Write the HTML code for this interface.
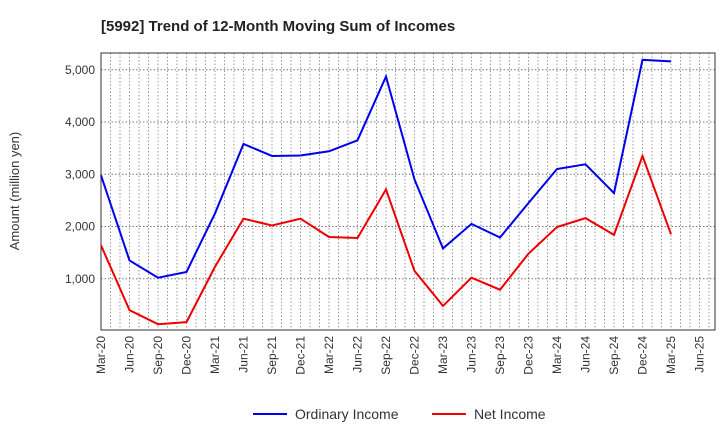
<!DOCTYPE html>
<html><head><meta charset="utf-8"><style>
body{margin:0;background:#fff;font-family:"Liberation Sans",sans-serif;}
</style></head><body>
<svg id="c" width="720" height="440" xmlns="http://www.w3.org/2000/svg">
<text x="101" y="31" font-size="15" font-weight="bold" fill="#222">[5992]  Trend of 12-Month Moving Sum of Incomes</text>
<text transform="translate(19,191) rotate(-90)" text-anchor="middle" font-size="13" fill="#333">Amount (million yen)</text>
<g id="grid"></g><g id="axes"></g><g id="series"></g>
<g>
<line x1="253" y1="414" x2="287" y2="414" stroke="#0000ee" stroke-width="2"/>
<text x="295" y="419" font-size="14" fill="#333">Ordinary Income</text>
<line x1="432" y1="414" x2="466" y2="414" stroke="#ee0000" stroke-width="2"/>
<text x="474" y="419" font-size="14" fill="#333">Net Income</text>
</g>
</svg>
<script>
const categories=["Mar-20","Jun-20","Sep-20","Dec-20","Mar-21","Jun-21","Sep-21","Dec-21","Mar-22","Jun-22","Sep-22","Dec-22","Mar-23","Jun-23","Sep-23","Dec-23","Mar-24","Jun-24","Sep-24","Dec-24","Mar-25"];
const xTickLabels=["Mar-20","Jun-20","Sep-20","Dec-20","Mar-21","Jun-21","Sep-21","Dec-21","Mar-22","Jun-22","Sep-22","Dec-22","Mar-23","Jun-23","Sep-23","Dec-23","Mar-24","Jun-24","Sep-24","Dec-24","Mar-25","Jun-25"];
const ordinaryIncome=[2980,1350,1020,1130,2250,3580,3350,3360,3440,3650,4870,2900,1580,2050,1790,2450,3100,3190,2640,5190,5160];
const netIncome=[1640,400,130,170,1230,2150,2020,2150,1800,1780,2710,1150,480,1020,790,1480,1990,2160,1840,3350,1850];
const yTicks=[1000,2000,3000,4000,5000];
const NS="http://www.w3.org/2000/svg";
const L=101,R=715,T=53,B=330;
const xs=m=>L+m*9.5;               // m = months since Mar-20
const ys=v=>331-v*0.05225;
function mk(tag,attrs,parent){const e=document.createElementNS(NS,tag);for(const k in attrs)e.setAttribute(k,attrs[k]);document.getElementById(parent).appendChild(e);return e;}
for(let m=1;xs(m)<R;m++){
 const g=mk('line',{x1:xs(m),x2:xs(m),y1:T,y2:B,stroke:'#999','stroke-dasharray':'1.5,2','stroke-width':1},'grid');
 
 
}
yTicks.forEach(v=>{
 const g=mk('line',{x1:L,x2:R,y1:ys(v),y2:ys(v),stroke:'#777','stroke-dasharray':'1.5,2','stroke-width':1},'grid');
 
 
 const t=mk('text',{x:L-6,y:ys(v)+4,'text-anchor':'end','font-size':12,fill:'#333'},'axes');
 t.textContent=v.toLocaleString('en-US')+(v?'':'');
 t.textContent=v.toLocaleString('en-US')+'';
 t.textContent=v.toLocaleString('en-US');
 
 
});
const frame=mk('rect',{x:L,y:T,width:R-L,height:B-T,fill:'none',stroke:'#333','stroke-width':1},'axes');


xTickLabels.forEach((lab,i)=>{
 const x=xs(i*3);
 const t=mk('text',{x:0,y:0,'text-anchor':'end','font-size':12,fill:'#333',transform:`translate(${x+4},${B+6}) rotate(-90)`},'axes');
 t.textContent=lab;
 
 
});
function series(vals,color,name){
 const pts=vals.map((v,i)=>xs(i*3)+','+ys(v)).join(' ');
 const p=mk('polyline',{points:pts,fill:'none',stroke:color,'stroke-width':2,'stroke-linejoin':'miter'},'series');
 
 
}
series(ordinaryIncome,'#0000ee','ordinary-income-line');
series(netIncome,'#ee0000','net-income-line');
</script>
</body></html>
